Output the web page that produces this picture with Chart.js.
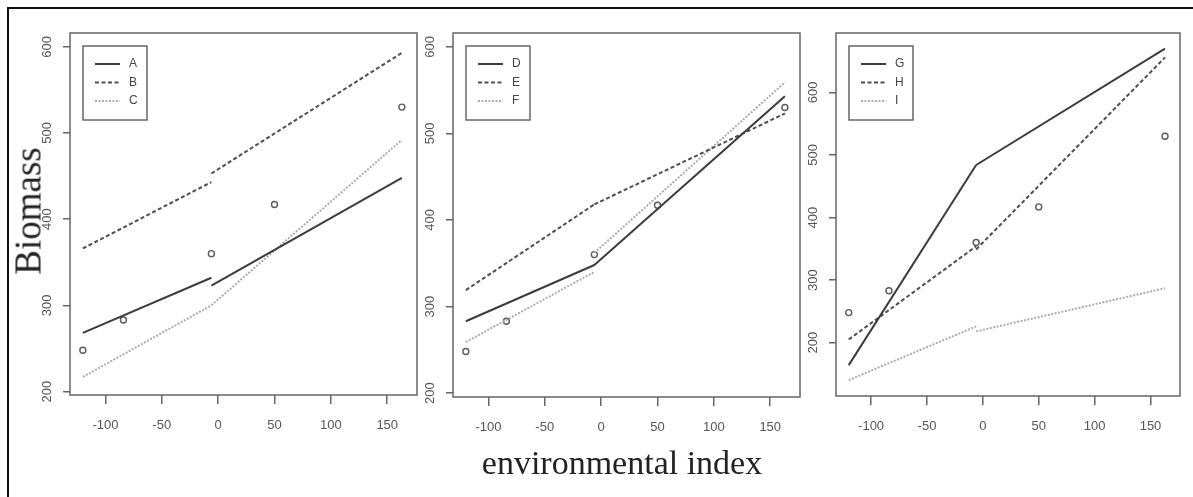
<!DOCTYPE html>
<html>
<head>
<meta charset="utf-8">
<script src="https://cdn.jsdelivr.net/npm/chart.js@4"></script>
<style>
    body { margin: 0; background: #fff; width: 1193px; height: 497px; overflow: hidden; position: relative; }
    canvas { position: absolute; left: 0; top: 0; }
    #frame { position: absolute; left: 7px; top: 7px; width: 1190px; height: 495px; border-top: 2px solid #111; border-left: 2px solid #111; }
    #yTitle { position: absolute; left: 28px; top: 211px; transform: translate(-50%, -50%) rotate(-90deg); font: 37px "Liberation Serif", "Times New Roman", serif; color: #222; white-space: nowrap; }
    #xTitle { position: absolute; left: 622px; top: 463px; transform: translate(-50%, -50%); font: 34px "Liberation Serif", "Times New Roman", serif; color: #222; white-space: nowrap; }
</style>
</head>
<body>
<div id="frame"></div>
<canvas id="Panel1" width="1193" height="497"></canvas>
<canvas id="Panel2" width="1193" height="497"></canvas>
<canvas id="Panel3" width="1193" height="497"></canvas>
<div id="yTitle">Biomass</div>
<div id="xTitle">environmental index</div>
<script>
// observed means per environment
var envIndex = [-120, -84, -6, 50, 163];
var biomass = [248, 283, 360, 417, 530];

// fitted lines: two pieces split at the middle environment (start, end, start, end)
var segX = [-120, -6, -6, 163];
var lineA = [268, 332, 323, 448];
var lineB = [366, 443, 453, 593];
var lineC = [217, 300, 300, 492];
var lineD = [283, 348, 348, 543];
var lineE = [319, 418, 418, 523];
var lineF = [259, 340, 362, 559];
var lineG = [164, 484, 484, 670];
var lineH = [205, 354, 349, 656];
var lineI = [140, 226, 218, 287];

// tick labels
var xTicks = [-100, -50, 0, 50, 100, 150];
var yTicks = [200, 300, 400, 500, 600];

var Y_AXIS_W = 10;
var X_AXIS_H = 40;

// solid / dashed / dotted looks
var styles = [
    { borderColor: '#3c3c3c', borderWidth: 2, borderDash: [] },
    { borderColor: '#4e4e4e', borderWidth: 2, borderDash: [4, 2.5] },
    { borderColor: '#ababab', borderWidth: 2, borderDash: [2, 1.5] }
];

function pieces(ys) {
    return [
        { x: segX[0], y: ys[0] },
        { x: segX[1], y: ys[1] },
        { x: segX[1], y: null },
        { x: segX[2], y: ys[2] },
        { x: segX[3], y: ys[3] }
    ];
}

// plot box, rotated y labels and boxed legend like base R
var rStyle = {
    id: 'rStyle',
    afterDraw: function (chart) {
        var ctx = chart.ctx;
        var area = chart.chartArea;
        var yScale = chart.scales.y;

        ctx.save();
        ctx.strokeStyle = '#666';
        ctx.lineWidth = 1.5;
        ctx.strokeRect(area.left, area.top, area.right - area.left, area.bottom - area.top);

        ctx.fillStyle = '#555';
        ctx.font = '13px "Liberation Sans", Arial, sans-serif';
        ctx.textAlign = 'center';
        ctx.textBaseline = 'middle';
        yScale.ticks.forEach(function (t) {
            ctx.save();
            ctx.translate(area.left - 23, yScale.getPixelForValue(t.value));
            ctx.rotate(-Math.PI / 2);
            ctx.fillText(String(t.value), 0, 0);
            ctx.restore();
        });

        var bx = area.left + 13;
        var by = area.top + 13;
        ctx.lineWidth = 1.5;
        ctx.strokeStyle = '#666';
        ctx.strokeRect(bx, by, 64, 74);
        var items = chart.data.datasets.filter(function (d) { return d.inLegend; });
        items.forEach(function (d, i) {
            var ly = by + 18 + i * 18.5;
            ctx.beginPath();
            ctx.setLineDash(d.borderDash);
            ctx.strokeStyle = d.borderColor;
            ctx.lineWidth = d.borderWidth;
            ctx.moveTo(bx + 12, ly);
            ctx.lineTo(bx + 37, ly);
            ctx.stroke();
            ctx.setLineDash([]);
            ctx.fillStyle = '#444';
            ctx.textAlign = 'left';
            ctx.font = '12px "Liberation Sans", Arial, sans-serif';
            ctx.fillText(d.label, bx + 46, ly);
        });
        ctx.restore();
    }
};

drawPanel('Panel1', { left: 70, right: 417, top: 33, bottom: 395 }, [196, 616], ['A', 'B', 'C'], [lineA, lineB, lineC]);
drawPanel('Panel2', { left: 453, right: 800, top: 33, bottom: 397 }, [195.5, 616], ['D', 'E', 'F'], [lineD, lineE, lineF]);
drawPanel('Panel3', { left: 836, right: 1180, top: 33, bottom: 396 }, [114.7, 695], ['G', 'H', 'I'], [lineG, lineH, lineI]);

function drawPanel(id, box, yRange, names, lines) {
    var ctx = document.getElementById(id);

    var datasets = lines.map(function (ys, i) {
        return {
            label: names[i],
            inLegend: true,
            data: pieces(ys),
            borderColor: styles[i].borderColor,
            borderWidth: styles[i].borderWidth,
            borderDash: styles[i].borderDash,
            pointRadius: 0,
            fill: false,
            spanGaps: false
        };
    });

    datasets.push({
        label: 'observed',
        inLegend: false,
        data: envIndex.map(function (x, i) { return { x: x, y: biomass[i] }; }),
        showLine: false,
        pointStyle: 'circle',
        pointRadius: 3,
        pointBorderWidth: 1.4,
        borderColor: '#5a5a5a',
        backgroundColor: 'rgba(0,0,0,0)'
    });

    var config = {
        type: 'line',
        data: { datasets: datasets },
        options: {
            responsive: false,
            animation: false,
            layout: {
                padding: {
                    left: box.left - Y_AXIS_W,
                    right: 1193 - box.right,
                    top: box.top,
                    bottom: 497 - box.bottom - X_AXIS_H
                }
            },
            plugins: {
                legend: { display: false },
                tooltip: { enabled: false }
            },
            scales: {
                x: {
                    type: 'linear',
                    min: -131.4,
                    max: 176.4,
                    grid: { drawOnChartArea: false, drawTicks: true, tickLength: 9, color: '#666', lineWidth: 1.5 },
                    border: { display: false },
                    ticks: {
                        color: '#555',
                        padding: 14,
                        maxRotation: 0,
                        font: { family: '"Liberation Sans", Arial, sans-serif', size: 13 }
                    },
                    afterBuildTicks: function (scale) {
                        scale.ticks = xTicks.map(function (v) { return { value: v }; });
                    },
                    afterFit: function (scale) { scale.height = X_AXIS_H; }
                },
                y: {
                    type: 'linear',
                    min: yRange[0],
                    max: yRange[1],
                    grid: { drawOnChartArea: false, drawTicks: true, tickLength: 7, color: '#666', lineWidth: 1.5 },
                    border: { display: false },
                    ticks: { display: false },
                    afterBuildTicks: function (scale) {
                        scale.ticks = yTicks.map(function (v) { return { value: v }; });
                    },
                    afterFit: function (scale) { scale.width = Y_AXIS_W; }
                }
            }
        },
        plugins: [rStyle]
    };

    var myChart = new Chart(ctx, config);
}
</script>
</body>
</html>
